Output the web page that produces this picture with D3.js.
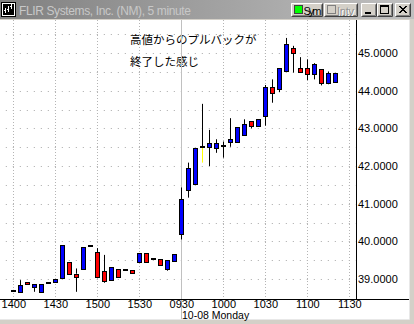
<!DOCTYPE html>
<html>
<head>
<meta charset="utf-8">
<script src="https://cdn.jsdelivr.net/npm/d3@7"></script>
<style>
body { margin: 0; background: #fff; }
svg { display: block; }
</style>
</head>
<body>
<svg id="chart"></svg>
<script>
// FLIR 5 minute bars: 14:00-15:55 of the previous day, then 09:30-11:20 on 10-08
const opens  = [38.69, 38.66, 38.92, 38.78, 38.66, 38.89, 38.91, 39.02, 39.44, 39.14, 39.26, 39.88,
                39.71, 39.20, 38.97, 39.27, 39.24, 39.23, 39.46, 39.69, 39.54, 39.52, 39.28, 39.48,
                40.19, 41.35, 41.51, 42.50, 42.50, 42.47, 42.54, 42.63, 42.63, 42.82, 43.19, 43.05,
                43.32, 44.09, 44.02, 44.53, 45.12, 44.59, 44.59, 44.43, 44.57, 44.20, 44.22];
const highs  = [38.71, 38.97, 38.92, 38.87, 38.87, 38.89, 38.99, 39.90, 39.44, 39.28, 39.84, 39.88,
                39.82, 39.64, 39.31, 39.27, 39.24, 39.23, 39.69, 39.69, 39.54, 39.52, 39.51, 39.66,
                41.43, 42.09, 42.47, 43.65, 42.96, 42.71, 42.65, 43.27, 43.03, 43.24, 43.19, 43.24,
                44.15, 44.30, 44.59, 45.40, 45.19, 44.89, 44.83, 44.73, 44.57, 44.51, 44.46];
const lows   = [38.69, 38.66, 38.86, 38.66, 38.66, 38.89, 38.91, 39.02, 39.12, 38.66, 39.26, 39.88,
                39.05, 38.90, 38.97, 39.05, 39.24, 39.15, 39.46, 39.46, 39.54, 39.36, 39.22, 39.48,
                40.05, 41.16, 41.51, 42.09, 42.00, 42.35, 42.22, 42.51, 42.63, 42.82, 43.00, 43.05,
                43.07, 43.68, 43.96, 44.53, 44.48, 44.49, 44.28, 44.30, 44.14, 44.17, 44.22];
const closes = [38.69, 38.84, 38.86, 38.87, 38.87, 38.89, 38.99, 39.90, 39.12, 39.05, 39.84, 39.88,
                39.05, 38.93, 39.31, 39.05, 39.24, 39.15, 39.69, 39.46, 39.54, 39.36, 39.51, 39.66,
                41.12, 41.94, 42.47, 42.50, 42.61, 42.61, 42.54, 42.71, 43.03, 43.11, 43.05, 43.24,
                44.09, 43.93, 44.59, 45.24, 44.99, 44.49, 44.43, 44.70, 44.20, 44.46, 44.46];
const yellowTail = [27];   // bar whose lower shadow is drawn yellow

const tickIndex  = [0, 6, 12, 18, 24, 30, 36, 42, 48];
const tickLabels = ["1400", "1430", "1500", "1530", "0930", "1000", "1030", "1100", "1130"];
const dayBreak = 24;
const dayLabel = "10-08 Monday";
const priceTicks = [39, 40, 41, 42, 43, 44, 45];
const priceGrid  = [39, 39.5, 40, 40.5, 41, 41.5, 42, 42.5, 43, 43.5, 44, 44.5, 45, 45.5];

const titleText = "FLIR Systems, Inc. (NM), 5 minute";
const note = ["高値からのプルバックが", "終了した感じ"];

const W = 414, H = 324;
const plotTop = 20, axisY = 299, axisX = 356;

const svg = d3.select("#chart").attr("width", W).attr("height", H)
  .style("font-family", "'Liberation Sans', Arial, sans-serif");

const x = d3.scaleLinear().domain([0, 48]).range([13.3, 349.3]);
const y = d3.scaleLinear().domain([39, 45]).range([279, 53]);
const px = i => Math.round(x(i));

svg.append("rect").attr("width", W).attr("height", H).attr("fill", "#fff");

// note text (the grid is drawn over it)
svg.append("g").selectAll("text").data(note).join("text")
  .attr("x", 130).attr("y", (d, i) => 44 + i * 22)
  .style("font-family", "'Noto Sans CJK JP', sans-serif")
  .style("font-size", "11.5px").attr("fill", "#000")
  .text(d => d);

// horizontal dotted grid, one dot per bar slot
const grid = svg.append("g");
grid.selectAll("line.h").data(priceGrid).join("line")
  .attr("class", "h")
  .attr("x1", x(-2) - 0.5).attr("x2", axisX)
  .attr("y1", d => Math.round(y(d)) + 0.5).attr("y2", d => Math.round(y(d)) + 0.5)
  .attr("stroke", "#a8a8a8").attr("stroke-dasharray", "1 6");

// vertical grid at time ticks
grid.selectAll("line.v").data(tickIndex).join("line")
  .attr("class", "v")
  .attr("x1", d => px(d) + 0.5).attr("x2", d => px(d) + 0.5)
  .attr("y1", plotTop).attr("y2", d => d === dayBreak ? 320 : axisY)
  .attr("stroke", d => d === dayBreak ? "#c0c0c0" : "#b4b4b4")
  .attr("stroke-dasharray", d => d === dayBreak ? null : "1 2");

// candles
const bars = d3.range(opens.length);
const up = i => closes[i] > opens[i];
const candles = svg.append("g");

candles.selectAll("line.wick").data(bars).join("line")
  .attr("class", "wick")
  .attr("x1", i => px(i) + 0.5).attr("x2", i => px(i) + 0.5)
  .attr("y1", i => y(highs[i])).attr("y2", i => y(Math.max(opens[i], closes[i])))
  .attr("stroke", "#000");
candles.selectAll("line.tail").data(bars).join("line")
  .attr("class", "tail")
  .attr("x1", i => px(i) + 0.5).attr("x2", i => px(i) + 0.5)
  .attr("y1", i => y(Math.min(opens[i], closes[i]))).attr("y2", i => y(lows[i]))
  .attr("stroke", i => yellowTail.includes(i) ? "#ffff00" : "#000");

candles.selectAll("rect.body").data(bars.filter(i => opens[i] !== closes[i])).join("rect")
  .attr("class", "body")
  .attr("x", i => px(i) - 1.5).attr("width", 4)
  .attr("y", i => Math.round(y(Math.max(opens[i], closes[i]))) + 0.5)
  .attr("height", i => Math.max(1, Math.round(Math.abs(y(opens[i]) - y(closes[i])))))
  .attr("fill", i => up(i) ? "#0000ff" : "#ff0000")
  .attr("stroke", "#000");

candles.selectAll("rect.doji").data(bars.filter(i => opens[i] === closes[i])).join("rect")
  .attr("class", "doji")
  .attr("x", i => px(i) - 2).attr("width", 5)
  .attr("y", i => Math.round(y(opens[i])) - 1).attr("height", 2)
  .attr("fill", "#000");

// axes lines
svg.append("line").attr("x1", axisX + 0.5).attr("x2", axisX + 0.5)
  .attr("y1", plotTop).attr("y2", axisY).attr("stroke", "#000");
svg.append("line").attr("x1", 0).attr("x2", 410)
  .attr("y1", axisY + 0.5).attr("y2", axisY + 0.5).attr("stroke", "#000");

const yAxis = svg.append("g").attr("transform", `translate(${axisX},0)`)
  .call(d3.axisRight(y).tickValues(priceTicks).tickFormat(d3.format(".4f")).tickSize(0).tickPadding(2));
yAxis.select(".domain").remove();
yAxis.selectAll("text").style("font-size", "11px").style("font-family", "'Liberation Sans', Arial, sans-serif").attr("fill", "#000");

const xAxis = svg.append("g").attr("transform", `translate(0,${axisY})`)
  .call(d3.axisBottom(x).tickValues(tickIndex).tickFormat((d, i) => tickLabels[i]).tickSize(0).tickPadding(1));
xAxis.select(".domain").remove();
xAxis.selectAll("text").style("font-size", "11px").style("font-family", "'Liberation Sans', Arial, sans-serif").attr("fill", "#000");

// window frame
svg.append("rect").attr("x", 409).attr("y", plotTop).attr("width", 5).attr("height", H - plotTop).attr("fill", "#d4d0c8");
svg.append("rect").attr("x", 0).attr("y", 319).attr("width", W).attr("height", 5).attr("fill", "#d4d0c8");
svg.append("line").attr("x1", 409.5).attr("x2", 409.5).attr("y1", plotTop).attr("y2", 319.5).attr("stroke", "#e8e8e8");
svg.append("line").attr("x1", 0).attr("x2", 409.5).attr("y1", 319.5).attr("y2", 319.5).attr("stroke", "#e8e8e8");

svg.append("text").attr("x", px(dayBreak) + 1).attr("y", 318.5)
  .style("font-size", "10.5px").attr("fill", "#000").text(dayLabel);

// title bar
const defs = svg.append("defs");
const grad = defs.append("linearGradient").attr("id", "tb");
grad.append("stop").attr("offset", "0%").attr("stop-color", "#808080");
grad.append("stop").attr("offset", "100%").attr("stop-color", "#c0c0c0");
const tb = svg.append("g");
tb.append("rect").attr("width", W).attr("height", 19).attr("fill", "url(#tb)");
tb.append("line").attr("x1", 0).attr("x2", W).attr("y1", 19.5).attr("y2", 19.5).attr("stroke", "#d4d0c8");

// icon
tb.append("rect").attr("x", 1).attr("y", 2).attr("width", 15).attr("height", 15).attr("fill", "#000");
tb.append("rect").attr("x", 2.5).attr("y", 3.5).attr("width", 12).attr("height", 12).attr("fill", "none").attr("stroke", "#fff");
tb.append("path").attr("d", "M5.5 13V8M8.5 12V6M11.5 9V4M4 10.5h2M7 9.5h2M10 6.5h2")
  .attr("stroke", "#fff").attr("fill", "none");

tb.append("text").attr("x", 19).attr("y", 14.5).style("font-size", "12px")
  .attr("textLength", 172).attr("fill", "#c8c8c8").text(titleText);

function button(x0, w) {
  const g = tb.append("g").attr("transform", `translate(${x0},3)`);
  g.append("rect").attr("width", w).attr("height", 14).attr("fill", "#d4d0c8");
  g.append("path").attr("d", `M0.5 13.5V0.5H${w - 0.5}`).attr("stroke", "#fff").attr("fill", "none");
  g.append("path").attr("d", `M0.5 13.5H${w - 0.5}V0.5`).attr("stroke", "#404040").attr("fill", "none");
  g.append("path").attr("d", `M1.5 12.5H${w - 1.5}V1.5`).attr("stroke", "#808080").attr("fill", "none");
  return g;
}
const sym = button(291, 32);
sym.append("rect").attr("x", 3.5).attr("y", 2.5).attr("width", 8).attr("height", 8).attr("fill", "#00ff00").attr("stroke", "#404040");
sym.append("text").attr("x", 12.5).attr("y", 11.5).style("font-size", "11px").attr("fill", "#000")
  .attr("textLength", 18).text("Sym");
const intv = button(324, 34);
intv.append("rect").attr("x", 3.5).attr("y", 2.5).attr("width", 8).attr("height", 8).attr("fill", "#d4d0c8").attr("stroke", "#808080");
intv.append("text").attr("x", 14).attr("y", 12.5).style("font-size", "11px").attr("fill", "#fff")
  .attr("textLength", 17).text("Intv");
intv.append("text").attr("x", 13).attr("y", 11.5).style("font-size", "11px").attr("fill", "#909090")
  .attr("textLength", 17).text("Intv");

const minB = button(361, 16);
minB.append("rect").attr("x", 4).attr("y", 9).attr("width", 6).attr("height", 2).attr("fill", "#000");
const maxB = button(377, 16);
maxB.append("rect").attr("x", 3.5).attr("y", 2.5).attr("width", 8).attr("height", 8).attr("fill", "none").attr("stroke", "#000");
maxB.append("line").attr("x1", 3).attr("x2", 12).attr("y1", 3.5).attr("y2", 3.5).attr("stroke", "#000");
const closeB = button(395, 16);
closeB.append("path").attr("d", "M4 3L11 10M5 3L12 10M11 3L4 10M12 3L5 10").attr("stroke", "#000").attr("stroke-width", 1);
</script>
</body>
</html>
